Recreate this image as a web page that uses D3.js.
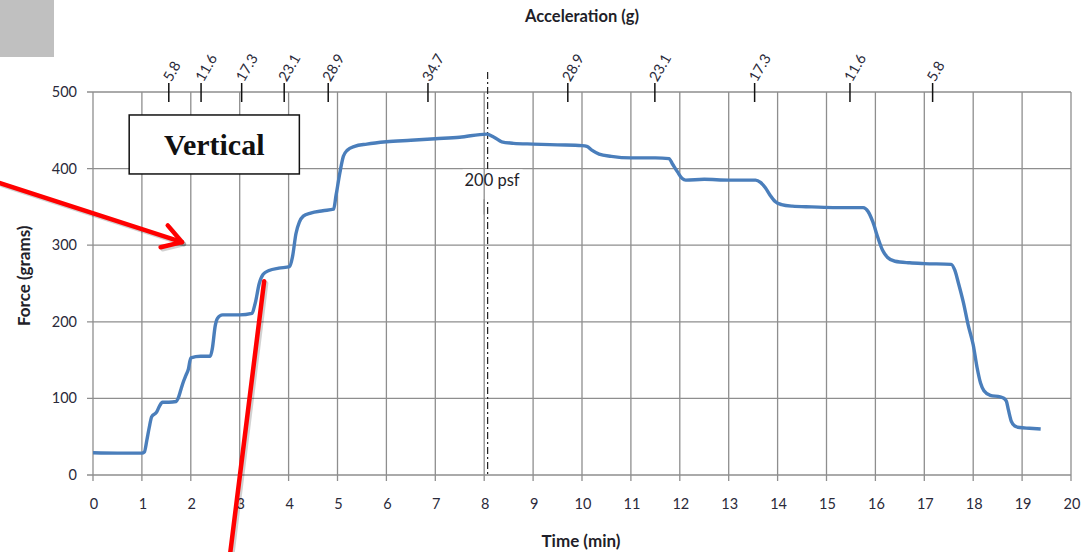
<!DOCTYPE html>
<html><head><meta charset="utf-8">
<script src="https://cdn.jsdelivr.net/npm/d3@7"></script>
<style>body{margin:0;background:#fff}svg{display:block}</style>
</head><body>
<svg id="c" width="1081" height="552"></svg>
<script>
// ---- data ----
const timeMin = [
  0, 0.5, 1.0, 1.05, 1.1, 1.15, 1.2, 1.3, 1.36, 1.42, 1.55, 1.7,
  1.74, 1.8, 1.85, 1.9, 1.95, 2.0, 2.2, 2.4, 2.44, 2.5, 2.55, 2.65,
  3.0, 3.25, 3.32, 3.4, 3.48, 3.6, 3.8, 4.02, 4.08, 4.15, 4.22, 4.3,
  4.45, 4.7, 4.92, 4.97, 5.05, 5.12, 5.2, 5.35, 5.6, 6.0, 6.5, 7.0,
  7.5, 8.05, 8.2, 8.36, 8.6, 9.0, 9.5, 10.0, 10.1, 10.2, 10.35, 10.6,
  11.0, 11.5, 11.78, 11.85, 11.95, 12.05, 12.12, 12.5, 13.0, 13.55, 13.65, 13.75,
  13.85, 13.95, 14.08, 14.3, 14.7, 15.2, 15.75, 15.85, 15.95, 16.05, 16.15, 16.25,
  16.4, 16.7, 17.0, 17.55, 17.62, 17.7, 17.8, 17.9, 18.0, 18.08, 18.15, 18.22,
  18.35, 18.55, 18.63, 18.68, 18.72, 18.78, 18.85, 18.95, 19.15, 19.38
];
const forceGrams = [
  29, 28.5, 28.5, 30, 45, 62, 76, 82, 90, 95, 95, 96,
  100, 112, 122, 130, 138, 153, 155, 155, 165, 195, 205, 209,
  209, 211, 225, 250, 262, 267, 270, 272, 285, 315, 330, 338,
  342, 345, 347, 365, 395, 416, 424, 429, 432, 435, 437, 439,
  441, 445, 441, 435, 433, 432, 431, 430, 429, 424, 419, 416,
  414, 414, 413, 406, 396, 387, 385, 386, 385, 385, 382, 375,
  365, 357, 353, 351, 350, 349, 349, 344, 330, 310, 293, 284,
  279, 277, 276, 275, 268, 250, 225, 195, 170, 140, 120, 110,
  104, 102, 100, 96, 85, 70, 64, 62, 61, 60
];
const xTicks = d3.range(0, 21, 1);
const yTicks = [0, 100, 200, 300, 400, 500];
const accelTimes = [1.55, 2.21, 3.04, 3.91, 4.81, 6.85, 9.71, 11.49, 13.53, 15.48, 17.17];
const accelLabels = ["5.8", "11.6", "17.3", "23.1", "28.9", "34.7", "28.9", "23.1", "17.3", "11.6", "5.8"];
const markerTime = 8.07;
const markerLabel = "200 psf";
const boxLabel = "Vertical";
// annotation arrows in data units [time, force]
const arrow1 = [[-1.9, 381], [1.82, 304]];
const arrow2 = [[3.5, 253], [2.8, -105]];
const boxCorners = [[0.74, 470], [4.22, 393]];

// ---- layout ----
const svg = d3.select("#c");
const x = d3.scaleLinear().domain([0, 20]).range([93, 1071]);
const y = d3.scaleLinear().domain([0, 500]).range([475, 92]);
const gridColor = "#8e8e8e";
const tickFont = "Lato, 'Open Sans', sans-serif";
const txt = "#2a2a3a";

// gray square top-left
svg.append("rect").attr("x", 0).attr("y", 0).attr("width", 54).attr("height", 57).attr("fill", "#c0c0c0");

// gridlines
const g = svg.append("g");
g.selectAll(".vg").data(xTicks).join("line")
  .attr("x1", d => x(d)).attr("x2", d => x(d)).attr("y1", y(500)).attr("y2", y(0) + 6)
  .attr("stroke", gridColor).attr("stroke-width", 1.3);
g.selectAll(".hg").data(yTicks).join("line")
  .attr("x1", x(0) - 6).attr("x2", x(20)).attr("y1", d => y(d)).attr("y2", d => y(d))
  .attr("stroke", gridColor).attr("stroke-width", 1.3);

// axis labels
g.selectAll(".xl").data(xTicks).join("text")
  .attr("x", d => x(d) + 1).attr("y", y(0) + 34).attr("text-anchor", "middle")
  .attr("font-family", tickFont).attr("font-size", 14.5).attr("fill", txt).text(d => d);
g.selectAll(".yl").data(yTicks).join("text")
  .attr("x", 77).attr("y", d => y(d)).attr("dy", "0.35em").attr("text-anchor", "end")
  .attr("font-family", tickFont).attr("font-size", 14.5).attr("fill", txt).text(d => d);

svg.append("text").attr("x", 581).attr("y", 547).attr("text-anchor", "middle")
  .attr("font-family", tickFont).attr("font-weight", "bold").attr("font-size", 17).attr("fill", "#1f1f2a").text("Time (min)");
svg.append("text").attr("transform", "translate(24," + y(260) + ") rotate(-90)").attr("text-anchor", "middle")
  .attr("dy", "0.35em")
  .attr("font-family", tickFont).attr("font-weight", "bold").attr("font-size", 17).attr("fill", "#1f1f2a").text("Force (grams)");
svg.append("text").attr("x", 582).attr("y", 22).attr("text-anchor", "middle")
  .attr("font-family", tickFont).attr("font-weight", "bold").attr("font-size", 16.5).attr("fill", "#1f1f2a").text("Acceleration (g)");

// acceleration ticks on top
const acc = svg.append("g");
accelTimes.forEach((t, i) => {
  acc.append("line").attr("x1", x(t)).attr("x2", x(t)).attr("y1", y(500) - 9).attr("y2", y(500) + 10)
    .attr("stroke", "#111").attr("stroke-width", 1.5);
  acc.append("text").attr("transform", "translate(" + (x(t) - 2) + "," + (y(500) - 12) + ") rotate(-60)")
    .attr("dy", "0.35em").attr("text-anchor", "start")
    .attr("font-family", tickFont).attr("font-size", 14.5).attr("fill", txt).text(accelLabels[i]);
});

// dashed marker
svg.append("line").attr("x1", x(markerTime)).attr("x2", x(markerTime)).attr("y1", y(500) - 20).attr("y2", y(0))
  .attr("stroke", "#222").attr("stroke-width", 1.2).attr("stroke-dasharray", "7,3,2,3");
svg.append("rect").attr("x", x(markerTime) - 25).attr("y", y(399)).attr("width", 60).attr("height", y(360) - y(399)).attr("fill", "#fff");
// redraw gridline covered by label background
svg.append("line").attr("x1", x(8)).attr("x2", x(8)).attr("y1", y(400)).attr("y2", y(340))
  .attr("stroke", gridColor).attr("stroke-width", 1.3);
svg.append("text").attr("x", x(markerTime) + 4.5).attr("y", y(400) + 17)
  .attr("text-anchor", "middle")
  .attr("font-family", tickFont).attr("font-size", 16.5).attr("fill", "#1f1f2a").text(markerLabel);

// data line
const pts = timeMin.map((t, i) => [t, forceGrams[i]]);
svg.append("path").datum(pts)
  .attr("d", d3.line().x(d => x(d[0])).y(d => y(d[1])).curve(d3.curveMonotoneX))
  .attr("fill", "none").attr("stroke", "#4a7ebb").attr("stroke-width", 3.4).attr("stroke-linejoin", "round");

// Vertical box
const bx = x(boxCorners[0][0]), by = y(boxCorners[0][1]);
const bw = x(boxCorners[1][0]) - bx, bh = y(boxCorners[1][1]) - by;
svg.append("rect").attr("x", bx).attr("y", by).attr("width", bw).attr("height", bh)
  .attr("fill", "#fff").attr("stroke", "#111").attr("stroke-width", 1.5);
svg.append("text").attr("x", bx + bw / 2).attr("y", by + bh / 2 + 11).attr("text-anchor", "middle")
  .attr("font-family", "'Liberation Serif', 'Times New Roman', serif").attr("font-weight", "bold")
  .attr("font-size", 30).attr("fill", "#111").text(boxLabel);

// red arrows
const a = svg.append("g");
function arrowLine(p, shadow) {
  a.append("line")
    .attr("x1", x(p[0][0]) + (shadow ? 2 : 0)).attr("y1", y(p[0][1]) + (shadow ? 2 : 0))
    .attr("x2", x(p[1][0]) + (shadow ? 2 : 0)).attr("y2", y(p[1][1]) + (shadow ? 2 : 0))
    .attr("stroke", shadow ? "rgba(0,0,0,0.18)" : "#ff0000").attr("stroke-width", 4.5).attr("stroke-linecap", "round");
}
arrowLine(arrow1, true); arrowLine(arrow1, false);
// arrowhead at arrow1 tip
(function () {
  const x1 = x(arrow1[0][0]), y1 = y(arrow1[0][1]), x2 = x(arrow1[1][0]), y2 = y(arrow1[1][1]);
  const ang = Math.atan2(y2 - y1, x2 - x1), L = 22, spread = 0.55;
  const wing = s => [x2 - L * Math.cos(ang + s), y2 - L * Math.sin(ang + s)];
  const w1 = wing(spread), w2 = wing(-spread);
  [true, false].forEach(sh => {
    a.append("path").attr("d", "M" + w1 + "L" + [x2, y2] + "L" + w2)
      .attr("transform", sh ? "translate(2,2)" : null)
      .attr("fill", "none").attr("stroke", sh ? "rgba(0,0,0,0.18)" : "#ff0000")
      .attr("stroke-width", 4.5).attr("stroke-linecap", "round").attr("stroke-linejoin", "round");
  });
})();
arrowLine(arrow2, true); arrowLine(arrow2, false);
</script>
</body></html>
